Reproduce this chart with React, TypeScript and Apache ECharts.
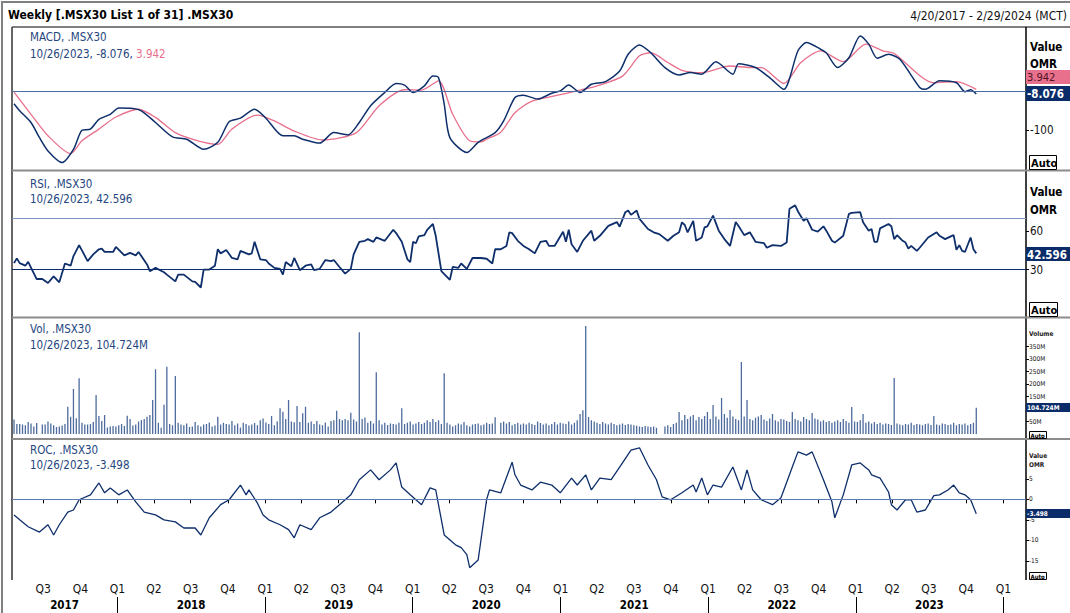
import React, { useEffect, useRef } from "react";
import * as echarts from "echarts";

const FONT = "'DejaVu Sans Condensed', 'DejaVu Sans', sans-serif";
const NAVY = "#0e2f6b";
const BOXNAVY = "#0a2c68";
const PINK = "#e8708d";
const TEXT_BLUE = "#25467e";

const startDate = Date.UTC(2017, 3, 20);
const WEEK = 7 * 86400000;
const axisMin = Date.UTC(2017, 3, 15);
const axisMax = Date.UTC(2024, 1, 26);
const toTime = (w: number) => startDate + w * WEEK;
const d = (s: string) => {
  const [y, m, dd] = s.split("-").map(Number);
  return Date.UTC(y, m - 1, dd);
};

// ---- MACD (weeks since 4/20/2017) ----
const macdWeeks = [0, 2, 6, 9, 12, 17, 21, 24, 27, 30, 34, 37, 42, 45, 50, 56, 61, 67, 72, 76, 80, 85, 89, 95, 99, 102, 108, 113, 118, 122, 126, 131, 135, 138, 141, 145, 148, 150, 152, 154, 160, 164, 170, 173, 177, 180, 185, 190, 193, 196, 200, 204, 209, 214, 217, 221, 225, 230, 235, 239, 243, 248, 254, 256, 262, 267, 272, 277, 280, 285, 287, 291, 295, 299, 302, 305, 309, 313, 320, 322, 327, 333, 336, 338, 340];
const macdValues = [-33, -51, -81, -120, -154, -184, -150, -101, -98, -73, -60, -44, -45, -51, -81, -118, -124, -150, -132, -79, -70, -47, -70, -115, -115, -124, -134, -107, -113, -81, -38, -4, 19, 15, -4, 13, 38, 34, -34, -120, -158, -132, -107, -77, -17, -11, -21, -6, 0, 15, -4, 17, 24, 51, 94, 118, 98, 60, 41, 47, 43, 75, 43, 70, 60, 34, 4, 103, 124, 107, 98, 60, 85, 141, 120, 84, 94, 81, 9, 4, 26, 21, -2, 3, -8.076];
const signalWeeks = [0, 6, 12, 20, 24, 30, 36, 44, 50, 57, 65, 72, 77, 86, 92, 99, 109, 121, 129, 138, 144, 150, 155, 161, 165, 167, 172, 177, 183, 191, 200, 206, 215, 221, 225, 231, 236, 243, 253, 260, 264, 272, 278, 285, 293, 301, 307, 311, 325, 333, 340];
const signalValues = [-3, -60, -115, -161, -128, -98, -67, -47, -68, -107, -128, -137, -98, -62, -77, -103, -126, -107, -38, 3, 2, 26, -60, -128, -131, -124, -106, -56, -26, -13, 2, 13, 38, 90, 98, 73, 53, 47, 64, 60, 60, 19, 73, 103, 75, 120, 103, 96, 21, 24, 3.942];

// ---- RSI ----
const rsiWeeks = [0, 1, 2, 4, 5, 8, 10, 12, 14, 16, 18, 20, 21, 23, 26, 28, 30, 31, 32, 35, 36, 39, 41, 43, 44, 47, 48, 50, 53, 54, 57, 58, 60, 63, 64, 66, 67, 69, 71, 72, 73, 75, 77, 79, 80, 83, 84, 85, 87, 89, 90, 92, 94, 95, 96, 98, 99, 101, 103, 105, 106, 108, 110, 112, 113, 115, 117, 119, 120, 122, 124, 125, 127, 128, 131, 134, 135, 137, 139, 140, 141, 142, 143, 145, 146, 148, 149, 151, 154, 155, 157, 158, 160, 162, 165, 167, 169, 170, 172, 174, 175, 176, 178, 180, 182, 184, 186, 188, 189, 191, 194, 195, 196, 197, 199, 201, 204, 205, 207, 210, 213, 214, 216, 217, 218, 220, 221, 224, 226, 228, 231, 233, 235, 236, 237, 238, 240, 241, 243, 244, 245, 247, 249, 251, 253, 255, 256, 258, 260, 262, 265, 266, 268, 271, 273, 274, 276, 277, 279, 280, 282, 284, 286, 287, 289, 290, 293, 295, 296, 299, 300, 302, 303, 304, 305, 306, 309, 310, 311, 312, 314, 315, 316, 317, 319, 320, 323, 326, 327, 329, 331, 332, 333, 334, 335, 336, 338, 339, 340];
const rsiValues = [35, 38.7, 35, 33, 36, 22.6, 22.6, 19.5, 24.7, 20, 34.7, 33, 40.5, 49, 36.6, 41.8, 45.8, 46.3, 43.7, 43.7, 47.6, 41, 43, 41, 43.7, 34, 28.7, 31.3, 27.9, 26, 20.8, 26, 26, 20.8, 20.3, 16, 30, 30, 33, 45.8, 42.6, 45.3, 39, 38, 44.5, 41.8, 42.6, 51.6, 38, 37.4, 34.7, 31.3, 30.5, 26, 35.8, 32.6, 39, 29.5, 33, 34, 29.5, 30.5, 37.4, 36.6, 37.4, 32, 26.8, 30.5, 41.8, 51.6, 52.4, 53.7, 51.6, 55, 52.4, 61, 58.4, 51.6, 38, 35.8, 51.6, 50.5, 55.8, 56.8, 61, 65.5, 56.3, 28.7, 22, 32, 31.3, 34.7, 30.5, 39, 39, 38.4, 34.7, 45.8, 45.8, 48.4, 59, 58.4, 52.4, 48.4, 45.8, 42.6, 51.6, 52.4, 48.4, 48.4, 59.5, 51.6, 61, 49.7, 43.7, 52.4, 60.3, 52.4, 56.3, 64, 67, 63.4, 74.7, 76, 72.6, 76, 69.5, 61.6, 59, 57.6, 52.4, 56.3, 59, 66.8, 64.7, 59, 68, 52.4, 55, 62.9, 63.7, 72, 60.3, 53.7, 48.4, 67, 64, 56.8, 59, 51.6, 50.5, 47, 49, 48.4, 51, 77.4, 80, 75.3, 68, 70, 61, 59.5, 63.7, 60.3, 52.4, 51, 56.3, 73.4, 74.2, 74.7, 66.8, 60.3, 61.6, 51.6, 51.6, 62.1, 65.5, 63.7, 53.7, 56.8, 52.4, 51, 46.3, 48.4, 44.5, 47, 55, 59, 56.3, 53.7, 55.8, 56.8, 45.3, 49, 44.5, 43.7, 55, 45.8, 42.596];

// ---- Volume (millions, weekly) ----
const volValues = [
  58, 40, 40, 38, 35, 48, 42, 30, 44, null, 38, 38, 50, 42, 35, 28, 30, 34, 40, 109,
  69, 180, 63, 223, 45, 38, 38, 40, 48, 156, 72, 52, 76, 26, 30, 32, 30, 35, 40, 32,
  73, 60, 34, 38, 50, 56, 60, 69, 76, 136, 259, 45, 25, 117, 269, 40, 35, 232, 45, 38,
  35, 42, 28, 30, 48, 35, 30, 38, 40, 46, 30, 34, 69, 38, 45, 40, 38, 52, 35, 42,
  26, 45, 40, 34, 38, 44, 35, 55, 62, 46, 40, 72, 35, 50, 103, 89, 60, 136, 50, 47,
  112, 48, 83, 109, 45, 50, 40, 52, 38, 35, 46, 30, 52, 55, 93, 60, 55, 60, 55, 85,
  58, 50, 407, 60, 66, 45, 52, 42, 247, 55, 38, 45, 36, 42, 40, 38, 45, 103, 40, 45,
  50, 38, 42, 48, 40, 45, 55, 48, 60, 48, 55, 40, 243, 45, 38, 30, 35, 42, 38, 48,
  35, 30, 38, 40, 42, 35, 38, 45, 40, 42, 67, null, 45, 50, 42, 48, 35, 40, 45, 38,
  42, 38, 45, 40, 36, 50, 44, 38, 42, 35, 40, 48, 38, 45, 42, 40, 50, 38, 45, 55,
  80, 95, 432, 68, 55, 50, 45, 40, 48, 42, 38, 45, 40, 35, 38, 42, 36, 40, 38, 35,
  33, 30, 28, 32, 30, 28, 30, 25, null, null, 30, 35, 28, 40, 45, 88, 55, 76, 60, 70,
  76, 55, 68, 60, 72, 88, 60, 116, 70, 58, 144, 80, 65, 96, 70, 60, 55, 288, 70, 136,
  60, 55, 65, 70, 76, 58, 52, 62, 80, 55, 50, 60, 58, 52, 48, 88, 60, 55, 50, 68,
  60, 55, 84, 62, 58, 50, 55, 48, 52, 45, 50, 55, 48, 60, 52, 45, 108, 50, 48, 55,
  80, 45, 50, 42, 48, 40, 45, 38, 42, 40, 36, 224, 42, 38, 35, 40, 38, 45, 36, 40,
  38, 35, 40, 42, 36, 72, 38, 35, 42, 40, 36, 38, 45, 35, 40, 38, 42, 35, 40, 45,
  104.724,
];

// ---- ROC ----
const rocWeeks = [0, 2, 5, 9, 12, 14, 16, 19, 21, 23, 27, 30, 32, 34, 37, 40, 43, 46, 50, 53, 57, 60, 64, 66, 69, 73, 76, 80, 82, 83, 86, 88, 90, 94, 97, 99, 101, 105, 108, 112, 115, 119, 122, 126, 129, 133, 135, 137, 140, 144, 147, 149, 151, 152, 156, 158, 160, 161, 164, 167, 168, 172, 176, 177, 179, 183, 186, 190, 193, 197, 199, 202, 204, 207, 211, 215, 218, 221, 224, 227, 229, 232, 236, 240, 241, 243, 245, 247, 250, 254, 257, 259, 261, 264, 268, 271, 275, 277, 280, 282, 286, 289, 290, 293, 296, 299, 302, 303, 306, 309, 310, 312, 315, 317, 319, 322, 325, 327, 330, 332, 334, 336, 338, 340];
const rocValues = [-3.8, -5, -6.7, -8, -6.2, -8.7, -6.2, -3.1, -2.6, -0.1, 1.1, 4, 1.6, 2.8, 1.1, 2.3, -0.6, -3.1, -3.8, -5, -5.5, -7, -7, -8.7, -4.5, -1.3, -0.1, 3.5, 1.1, 2.3, -0.9, -3.8, -5, -6.2, -7.4, -9.4, -6.2, -7.4, -4.5, -3.1, -1.3, 1.1, 4.8, 7.2, 4.8, 7.2, 8.9, 3, 1.1, -1.3, 2.8, 2.3, -5, -8.7, -11.1, -11.8, -13.5, -16.7, -14.8, 0, 2.3, 1.6, 9.1, 6, 3.5, 2.3, 4.2, 3.5, 1.6, 5.2, 3.5, 6, 2.3, 5.2, 4.8, 8.9, 12, 12.6, 8.4, 4.8, 0.6, -0.1, 1.6, 3.5, 1.8, 5.2, 1.1, 3.5, 3, 7.9, 2.3, 7.2, 2.3, -0.1, -1.3, 0.4, 7.9, 11.6, 10.8, 11.6, 4.8, -0.6, -4.5, 1.1, 8.4, 8.9, 7.2, 6, 5.2, 1.8, -1.3, -2.6, -0.1, -0.1, -3.1, -2.6, 0.9, 1.1, 2.3, 3.5, 1.6, 1.1, -0.1, -3.498];

// ---- axis ticks / labels ----
const quarterTicks = ["2017-07-01", "2017-10-01", "2018-01-01", "2018-04-01", "2018-07-01", "2018-10-01", "2019-01-01", "2019-04-01", "2019-07-01", "2019-10-01", "2020-01-01", "2020-04-01", "2020-07-01", "2020-10-01", "2021-01-01", "2021-04-01", "2021-07-01", "2021-10-01", "2022-01-01", "2022-04-01", "2022-07-01", "2022-10-01", "2023-01-01", "2023-04-01", "2023-07-01", "2023-10-01", "2024-01-01"];
const yearStarts = ["2018-01-01", "2019-01-01", "2020-01-01", "2021-01-01", "2022-01-01", "2023-01-01", "2024-01-01"];
const yearLabelDates = ["2017-08-23", "2018-07-02", "2019-07-02", "2020-07-01", "2021-07-02", "2022-07-02", "2023-07-02"];
const macdTicks = [-100];
const rsiTicks = [30, 60];
const volTicks = [50, 150, 200, 250, 300, 350];
const rocTicks = [-15, -10, -5, 0, 5];

const txt = (x: number, y: number, text: string, o: any = {}) => ({
  type: "text",
  x,
  y,
  z: o.z ?? 110,
  silent: true,
  style: {
    text,
    fill: o.fill ?? TEXT_BLUE,
    fontSize: o.size ?? 11.5,
    fontWeight: o.bold ? "bold" : "normal",
    fontFamily: FONT,
    align: o.align ?? "left",
    verticalAlign: "middle",
    rich: o.rich,
  },
});
const rect = (x: number, y: number, w: number, h: number, fill: string, stroke?: string) => ({
  type: "rect",
  z: 105,
  silent: true,
  shape: { x, y, width: w, height: h },
  style: { fill, stroke: stroke ?? "none", lineWidth: 1 },
});
const ln = (x1: number, y1: number, x2: number, y2: number, stroke: string, w: number) => ({
  type: "line",
  z: 1,
  silent: true,
  shape: { x1, y1, x2, y2 },
  style: { stroke, lineWidth: w },
});

export default function App() {
  const ref = useRef<HTMLDivElement>(null);
  useEffect(() => {
    if (!ref.current) return;
    const chart = echarts.init(ref.current, undefined, { renderer: "svg" });

    const hiddenX = (gi: number) => ({
      type: "value",
      gridIndex: gi,
      min: axisMin,
      max: axisMax,
      axisLine: { show: false },
      axisTick: { show: false },
      axisLabel: { show: false },
      splitLine: { show: false },
    });
    const yAx = (gi: number, min: number, max: number, ticks: number[], size: number, margin: number, fmt?: (v: number) => string) => ({
      type: "value",
      gridIndex: gi,
      position: "right",
      min,
      max,
      splitLine: { show: false },
      axisLine: { show: false },
      axisTick: { show: true, customValues: ticks, length: 3, lineStyle: { color: "#000" } },
      axisLabel: {
        customValues: ticks,
        fontSize: size,
        color: "#111",
        margin,
        fontFamily: FONT,
        formatter: fmt ?? ((v: number) => String(v)),
      },
    });
    const refLine = (vals: { v: number; c: string }[]) => ({
      silent: true,
      symbol: "none",
      label: { show: false },
      data: vals.map((r) => ({ yAxis: r.v, lineStyle: { color: r.c, width: 1.2, type: "solid" } })),
    });

    const yearMap = new Map<number, string>();
    yearLabelDates.forEach((s) => yearMap.set(d(s), s.slice(0, 4)));

    const option: any = {
      animation: false,
      backgroundColor: "#fff",
      grid: [
        { left: 12, top: 28, width: 1014, height: 142 },
        { left: 12, top: 171, width: 1014, height: 146 },
        { left: 12, top: 318, width: 1014, height: 121 },
        { left: 12, top: 440, width: 1014, height: 140 },
      ],
      xAxis: [
        hiddenX(0),
        hiddenX(1),
        hiddenX(2),
        {
          type: "value",
          gridIndex: 3,
          min: axisMin,
          max: axisMax,
          splitLine: { show: false },
          axisLine: { show: true, lineStyle: { color: "#000", width: 1 } },
          axisTick: { show: true, customValues: quarterTicks.map(d), length: 4, lineStyle: { color: "#000" } },
          axisLabel: {
            customValues: quarterTicks.map(d),
            fontSize: 12,
            color: "#111",
            margin: 3,
            fontFamily: FONT,
            formatter: (v: number) => "Q" + (Math.floor(new Date(v).getUTCMonth() / 3) + 1),
          },
        },
        {
          type: "value",
          gridIndex: 3,
          position: "bottom",
          offset: 17,
          min: axisMin,
          max: axisMax,
          splitLine: { show: false },
          axisLine: { show: false },
          axisTick: { show: true, customValues: yearStarts.map(d), length: 16, lineStyle: { color: "#000" } },
          axisLabel: {
            customValues: yearLabelDates.map(d),
            fontSize: 11.5,
            fontWeight: "bold",
            color: "#000",
            margin: 2,
            fontFamily: FONT,
            formatter: (v: number) => yearMap.get(v) ?? String(new Date(v).getUTCFullYear()),
          },
        },
      ],
      yAxis: [
        yAx(0, -203, 161.5, macdTicks, 11.5, 4),
        yAx(1, -7, 106.8, rsiTicks, 11.5, 4),
        yAx(2, -20, 464, volTicks, 6.5, 3, (v: number) => v + "M"),
        yAx(3, -19.7, 14.5, rocTicks, 6.5, 3),
      ],
      series: [
        {
          type: "line",
          name: "Signal",
          xAxisIndex: 0,
          yAxisIndex: 0,
          data: signalWeeks.map((w, i) => [toTime(w), signalValues[i]]),
          showSymbol: false,
          smooth: 0.25,
          z: 2,
          lineStyle: { color: PINK, width: 1.3 },
          itemStyle: { color: PINK },
          markLine: refLine([{ v: 0, c: "#4a6c9f" }]),
        },
        {
          type: "line",
          name: "MACD",
          xAxisIndex: 0,
          yAxisIndex: 0,
          data: macdWeeks.map((w, i) => [toTime(w), macdValues[i]]),
          showSymbol: false,
          smooth: 0.25,
          z: 3,
          lineStyle: { color: NAVY, width: 1.5 },
          itemStyle: { color: NAVY },
        },
        {
          type: "line",
          name: "RSI",
          xAxisIndex: 1,
          yAxisIndex: 1,
          data: rsiWeeks.map((w, i) => [toTime(w), rsiValues[i]]),
          showSymbol: false,
          lineStyle: { color: NAVY, width: 1.8 },
          itemStyle: { color: NAVY },
          markLine: refLine([
            { v: 70, c: "#7a94bf" },
            { v: 30, c: NAVY },
          ]),
        },
        {
          type: "bar",
          name: "Vol",
          xAxisIndex: 2,
          yAxisIndex: 2,
          data: volValues.map((v, i) => [toTime(i), v]),
          barWidth: 1.3,
          itemStyle: { color: "#4d6b9d" },
        },
        {
          type: "line",
          name: "ROC",
          xAxisIndex: 3,
          yAxisIndex: 3,
          data: rocWeeks.map((w, i) => [toTime(w), rocValues[i]]),
          showSymbol: false,
          lineStyle: { color: NAVY, width: 1.3 },
          itemStyle: { color: NAVY },
          markLine: refLine([{ v: 0, c: "#5d7db0" }]),
        },
      ],
      graphic: [
        { type: "rect", z: 0, silent: true, shape: { x: 2, y: 2, width: 1100, height: 700 }, style: { fill: "none", stroke: "#808080", lineWidth: 2 } },
        ln(12, 27, 1070, 27, "#555", 1.5),
        ln(12, 27, 12, 580, "#333", 1.5),
        ln(1026, 27, 1026, 580, "#000", 1.5),
        ln(12, 170.5, 1070, 170.5, "#8c8c8c", 2),
        ln(12, 317.5, 1070, 317.5, "#8c8c8c", 2),
        ln(12, 439, 1070, 439, "#8c8c8c", 2),
        txt(8, 15, "Weekly [.MSX30 List 1 of 31] .MSX30", { bold: true, size: 12, fill: "#000" }),
        txt(1067, 16, "4/20/2017 - 2/29/2024 (MCT)", { size: 12, fill: "#111", align: "right" }),
        txt(30, 37, "MACD, .MSX30"),
        txt(30, 53.5, "{a|10/26/2023, -8.076, }{b|3.942}", {
          rich: {
            a: { fill: TEXT_BLUE, fontSize: 11.5, fontFamily: FONT },
            b: { fill: PINK, fontSize: 11.5, fontFamily: FONT },
          },
        }),
        txt(30, 184, "RSI, .MSX30"),
        txt(30, 198.5, "10/26/2023, 42.596"),
        txt(30, 329, "Vol, .MSX30"),
        txt(30, 345, "10/26/2023, 104.724M"),
        txt(30, 450, "ROC, .MSX30"),
        txt(30, 465, "10/26/2023, -3.498"),
        txt(1030, 47, "Value", { bold: true, fill: "#000" }),
        txt(1030, 64, "OMR", { bold: true, fill: "#000" }),
        rect(1026, 70, 44, 14, PINK),
        txt(1027, 77.5, "3.942", { fill: "#4d1424", size: 11 }),
        rect(1026, 86, 44, 15, BOXNAVY),
        txt(1027, 94, "-8.076", { fill: "#fff", bold: true }),
        rect(1029.5, 155.5, 27, 14, "#fff", "#000"),
        txt(1031, 163, "Auto", { bold: true, fill: "#000", size: 11 }),
        txt(1030, 192, "Value", { bold: true, fill: "#000" }),
        txt(1030, 210, "OMR", { bold: true, fill: "#000" }),
        rect(1026, 247, 44, 14, BOXNAVY),
        txt(1027, 254.5, "42.596", { fill: "#fff", bold: true }),
        rect(1029.5, 302.5, 28, 14, "#fff", "#000"),
        txt(1031, 310, "Auto", { bold: true, fill: "#000", size: 11 }),
        txt(1029, 334, "Volume", { bold: true, fill: "#222", size: 6.5 }),
        rect(1026, 403, 44, 9, BOXNAVY),
        txt(1027, 407.5, "104.724M", { fill: "#fff", bold: true, size: 6.5 }),
        rect(1029.5, 431.5, 17, 7, "#fff", "#000"),
        txt(1030.5, 435.2, "Auto", { bold: true, fill: "#000", size: 6 }),
        txt(1029, 456, "Value", { bold: true, fill: "#222", size: 6.5 }),
        txt(1029, 465, "OMR", { bold: true, fill: "#222", size: 6.5 }),
        rect(1026, 509, 44, 9, BOXNAVY),
        txt(1027, 513.5, "-3.498", { fill: "#fff", bold: true, size: 6.5 }),
        rect(1029.5, 572.5, 17, 7, "#fff", "#000"),
        txt(1030.5, 576.2, "Auto", { bold: true, fill: "#000", size: 6 }),
      ],
    };
    chart.setOption(option);
    return () => chart.dispose();
  }, []);
  return (
    <div
      ref={ref}
      style={{ position: "fixed", left: 0, top: 0, width: 1070, height: 613, background: "#fff" }}
    />
  );
}
